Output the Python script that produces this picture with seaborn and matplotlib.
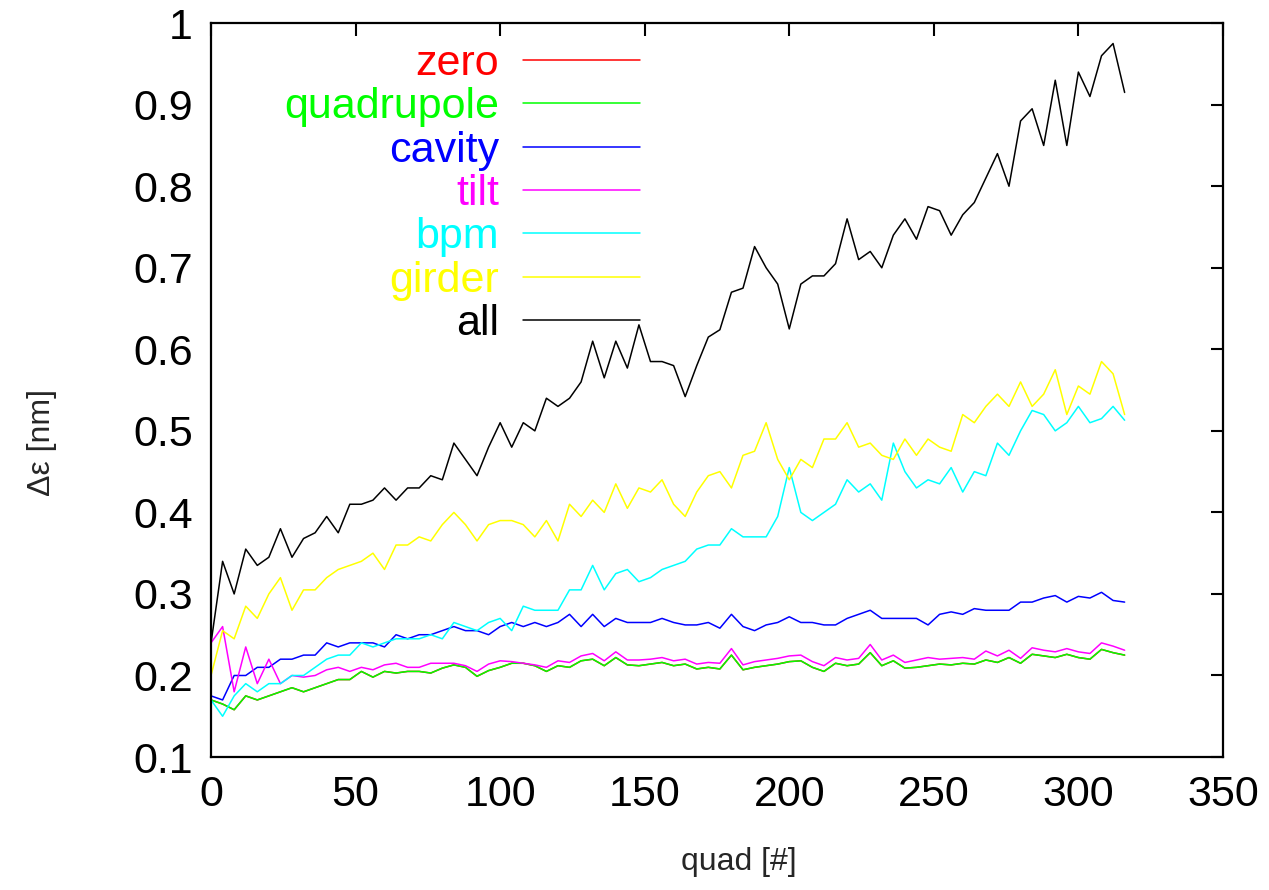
import numpy as np
import pandas as pd
import matplotlib
matplotlib.use("Agg")
from matplotlib import pyplot as plt
import seaborn as sns


# emittance growth along the linac, sampled every 4th quad
quad = np.arange(0, 317, 4)

quadrupole = [0.17, 0.165, 0.158, 0.175, 0.17, 0.175, 0.18, 0.185, 0.18, 0.185,
              0.19, 0.195, 0.195, 0.205, 0.198, 0.205, 0.203, 0.205, 0.205, 0.203,
              0.209, 0.213, 0.21, 0.199, 0.206, 0.21, 0.215, 0.215, 0.212, 0.205,
              0.212, 0.21, 0.218, 0.22, 0.212, 0.222, 0.213, 0.212, 0.214, 0.216,
              0.212, 0.214, 0.208, 0.21, 0.208, 0.225, 0.207, 0.21, 0.212, 0.214,
              0.217, 0.218, 0.21, 0.205, 0.215, 0.212, 0.214, 0.228, 0.212, 0.218,
              0.209, 0.21, 0.212, 0.214, 0.213, 0.215, 0.214, 0.219, 0.216, 0.222,
              0.215, 0.226, 0.224, 0.222, 0.226, 0.222, 0.22, 0.232, 0.228, 0.225]

# the red curve sits exactly under the green one
zero = list(quadrupole)

cavity = [0.175, 0.17, 0.20, 0.20, 0.21, 0.21, 0.22, 0.22, 0.225, 0.225,
          0.24, 0.235, 0.24, 0.24, 0.24, 0.235, 0.25, 0.245, 0.25, 0.25,
          0.255, 0.26, 0.255, 0.255, 0.25, 0.26, 0.265, 0.26, 0.265, 0.26,
          0.265, 0.275, 0.26, 0.275, 0.26, 0.27, 0.265, 0.265, 0.265, 0.27,
          0.265, 0.262, 0.262, 0.265, 0.258, 0.275, 0.26, 0.255, 0.262, 0.265,
          0.272, 0.265, 0.265, 0.262, 0.262, 0.27, 0.275, 0.28, 0.27, 0.27,
          0.27, 0.27, 0.262, 0.275, 0.278, 0.275, 0.282, 0.28, 0.28, 0.28,
          0.29, 0.29, 0.295, 0.298, 0.29, 0.297, 0.295, 0.302, 0.292, 0.29]

tilt = [0.24, 0.26, 0.18, 0.235, 0.19, 0.22, 0.19, 0.20, 0.198, 0.20,
        0.207, 0.21, 0.205, 0.21, 0.207, 0.213, 0.215, 0.21, 0.21, 0.215,
        0.215, 0.215, 0.212, 0.205, 0.214, 0.218, 0.217, 0.215, 0.213, 0.21,
        0.218, 0.216, 0.224, 0.227, 0.218, 0.229, 0.219, 0.219, 0.22, 0.222,
        0.218, 0.22, 0.214, 0.216, 0.215, 0.233, 0.213, 0.217, 0.219, 0.221,
        0.224, 0.225, 0.217, 0.212, 0.222, 0.219, 0.221, 0.238, 0.219, 0.225,
        0.216, 0.219, 0.222, 0.22, 0.221, 0.222, 0.22, 0.23, 0.224, 0.231,
        0.221, 0.234, 0.231, 0.229, 0.233, 0.229, 0.227, 0.24, 0.236, 0.231]

bpm = [0.17, 0.15, 0.175, 0.19, 0.18, 0.19, 0.19, 0.20, 0.20, 0.21,
       0.22, 0.225, 0.225, 0.24, 0.235, 0.24, 0.245, 0.245, 0.245, 0.25,
       0.245, 0.265, 0.26, 0.255, 0.265, 0.27, 0.255, 0.285, 0.28, 0.28,
       0.28, 0.305, 0.305, 0.335, 0.305, 0.325, 0.33, 0.315, 0.32, 0.33,
       0.335, 0.34, 0.355, 0.36, 0.36, 0.38, 0.37, 0.37, 0.37, 0.395,
       0.455, 0.40, 0.39, 0.40, 0.41, 0.44, 0.425, 0.435, 0.415, 0.485,
       0.45, 0.43, 0.44, 0.435, 0.455, 0.425, 0.45, 0.445, 0.485, 0.47,
       0.50, 0.525, 0.52, 0.50, 0.51, 0.53, 0.51, 0.515, 0.53, 0.513]

girder = [0.20, 0.255, 0.245, 0.285, 0.27, 0.30, 0.32, 0.28, 0.305, 0.305,
          0.32, 0.33, 0.335, 0.34, 0.35, 0.33, 0.36, 0.36, 0.37, 0.365,
          0.385, 0.40, 0.385, 0.365, 0.385, 0.39, 0.39, 0.385, 0.37, 0.39,
          0.365, 0.41, 0.395, 0.415, 0.40, 0.435, 0.405, 0.43, 0.425, 0.44,
          0.41, 0.395, 0.425, 0.445, 0.45, 0.43, 0.47, 0.475, 0.51, 0.465,
          0.44, 0.465, 0.455, 0.49, 0.49, 0.51, 0.48, 0.485, 0.47, 0.465,
          0.49, 0.47, 0.49, 0.48, 0.475, 0.52, 0.51, 0.53, 0.545, 0.53,
          0.56, 0.53, 0.545, 0.575, 0.52, 0.555, 0.545, 0.585, 0.57, 0.52]

all_errors = [0.24, 0.34, 0.30, 0.355, 0.335, 0.345, 0.38, 0.345, 0.368, 0.375,
              0.395, 0.375, 0.41, 0.41, 0.415, 0.43, 0.415, 0.43, 0.43, 0.445,
              0.44, 0.485, 0.465, 0.445, 0.48, 0.51, 0.48, 0.51, 0.50, 0.54,
              0.53, 0.54, 0.56, 0.61, 0.565, 0.61, 0.577, 0.63, 0.585, 0.585,
              0.58, 0.542, 0.58, 0.615, 0.624, 0.67, 0.675, 0.726, 0.70, 0.68,
              0.625, 0.68, 0.69, 0.69, 0.705, 0.76, 0.71, 0.72, 0.70, 0.74,
              0.76, 0.735, 0.775, 0.77, 0.74, 0.765, 0.78, 0.81, 0.84, 0.80,
              0.88, 0.895, 0.85, 0.93, 0.85, 0.94, 0.91, 0.96, 0.975, 0.915]

names = ["zero", "quadrupole", "cavity", "tilt", "bpm", "girder", "all"]
colors = ["#ff0000", "#00ff00", "#0000ff", "#ff00ff", "#00ffff", "#ffff00", "#000000"]
series = [zero, quadrupole, cavity, tilt, bpm, girder, all_errors]

xticks = [0, 50, 100, 150, 200, 250, 300, 350]
yticks = [0.1, 0.2, 0.3, 0.4, 0.5, 0.6, 0.7, 0.8, 0.9, 1.0]
ytick_labels = ["0.1", "0.2", "0.3", "0.4", "0.5", "0.6", "0.7", "0.8", "0.9", "1"]

df = pd.concat([pd.DataFrame({"quad": quad, "emit": vals, "run": name})
                for name, vals in zip(names, series)], ignore_index=True)

sns.set_style("white")
plt.rcParams["font.family"] = ["Liberation Sans", "DejaVu Sans"]

fig = plt.figure(figsize=(12.69, 8.90), dpi=100)
ax = fig.add_axes([0.1663, 0.1494, 0.7974, 0.8246])

sns.lineplot(data=df, x="quad", y="emit", hue="run", hue_order=names,
             palette=colors, linewidth=1.1, estimator=None, sort=False, ax=ax)

ax.set_xlim(0, 350)
ax.set_ylim(0.1, 1.0)
ax.set_xticks(xticks)
ax.set_yticks(yticks)
ax.set_yticklabels(ytick_labels)
ax.tick_params(direction="in", length=9, width=1.5, top=True, right=True,
               labelsize=31, pad=13, colors="black")
for sp in ax.spines.values():
    sp.set_linewidth(1.6)
    sp.set_color("black")

# axis titles are set a bit smaller than the tick labels
ax.set_xlabel("quad [#]", fontsize=23, va="center")
ax.set_ylabel("Δε [nm]", fontsize=23, va="center")
ax.xaxis.set_label_coords(0.522, -0.143)
ax.yaxis.set_label_coords(-0.167, 0.428)

handles, labels = ax.get_legend_handles_labels()
ax.legend(handles, labels, loc="upper right", bbox_to_anchor=(0.424, 0.972),
          frameon=False, markerfirst=False, labelcolor="linecolor",
          fontsize=31, handlelength=2.72, handletextpad=0.55,
          labelspacing=0.08, borderpad=0, borderaxespad=0)

plt.savefig("out.png", dpi=100)
